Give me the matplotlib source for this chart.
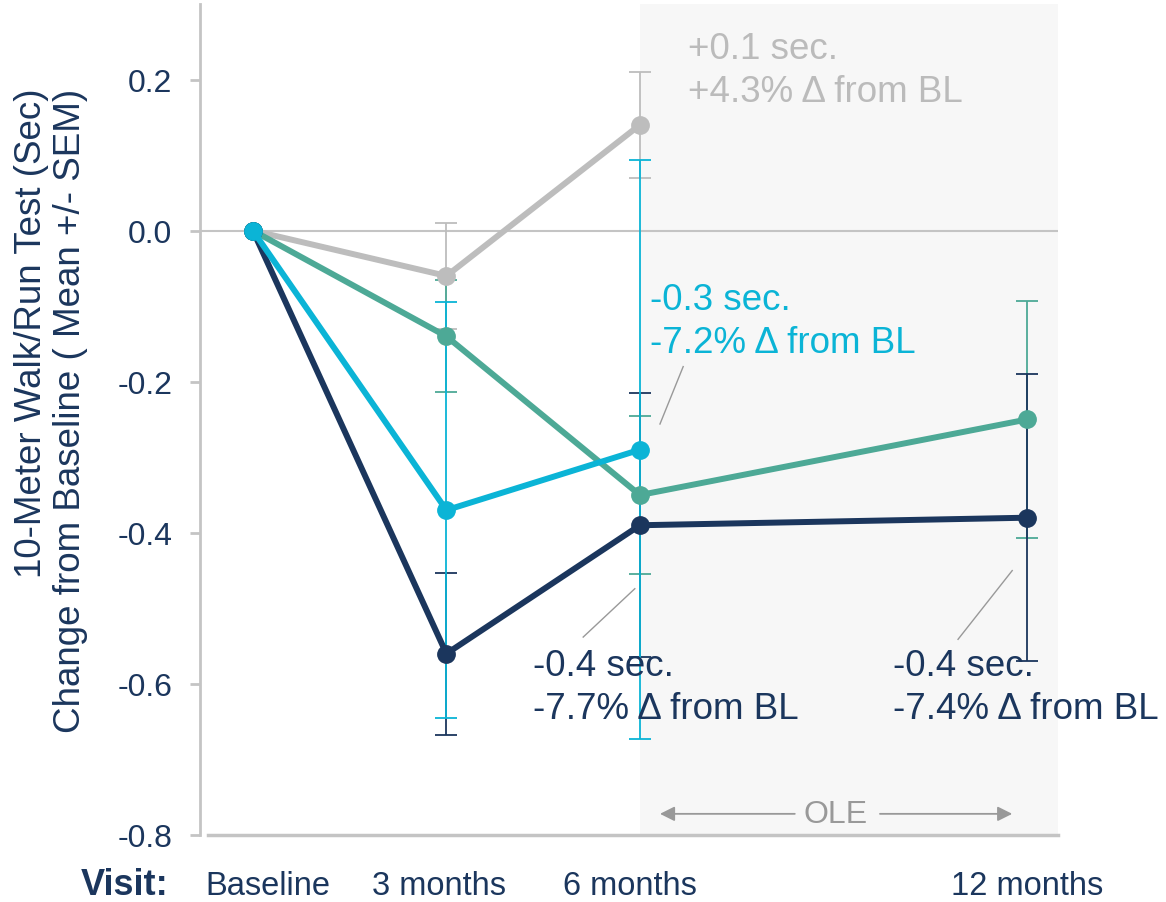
import matplotlib
matplotlib.use("Agg")
import matplotlib.pyplot as plt
from matplotlib.transforms import ScaledTranslation

plt.rcParams['font.family'] = ['Liberation Sans', 'DejaVu Sans']

# visits (months from baseline) and tick labels
visit_months = [0, 3, 6, 12]
visit_labels = ['Baseline', '3 months', '6 months', '12 months']

# mean change from baseline (sec) and SEM per group
grey_mean = [0.0, -0.06, 0.14]
grey_sem = [0.0, 0.07, 0.07]
teal_mean = [0.0, -0.14, -0.35, -0.25]
teal_sem = [0.0, 0.074, 0.104, 0.157]
navy_mean = [0.0, -0.56, -0.39, -0.38]
navy_sem = [0.0, 0.107, 0.175, 0.19]
cyan_mean = [0.0, -0.37, -0.29]
cyan_sem = [0.0, 0.275, 0.383]

GREY = '#BDBDBD'
TEAL = '#4DA996'
NAVY = '#1B365D'
CYAN = '#0BB4D6'
AXIS_GREY = '#C4C4C4'

fig = plt.figure(figsize=(11.66, 9.03), dpi=100)
ax = fig.add_axes([0.1715, 0.0742, 0.7359, 0.9203])
ax.set_xlim(-0.82, 12.48)
ax.set_ylim(-0.8, 0.30)

# open-label extension shading
ax.axvspan(6, 12.48, color='#F7F7F7', zorder=0, lw=0)
ax.axhline(0, color=AXIS_GREY, lw=1.5, zorder=1)
ax.plot([-0.7, 12.48], [-0.8, -0.8], color=AXIS_GREY, lw=2.5, zorder=1, clip_on=False)

series = [
    (grey_mean, grey_sem, GREY),
    (teal_mean, teal_sem, TEAL),
    (navy_mean, navy_sem, NAVY),
    (cyan_mean, cyan_sem, CYAN),
]
for mean, sem, col in series:
    xs = visit_months[:len(mean)]
    ax.errorbar(xs[1:], mean[1:], yerr=sem[1:], fmt='none', ecolor=col,
                elinewidth=1.3, capsize=8, capthick=1.3, zorder=2)
for mean, sem, col in series:
    xs = visit_months[:len(mean)]
    ax.plot(xs, mean, color=col, lw=4.3, marker='o', ms=12.5, zorder=3)

# value callouts
txt = dict(fontsize=26.5, ha='left', va='center', linespacing=1.3)
ax.text(6.74, 0.213, '+0.1 sec.\n+4.3% Δ from BL', color='#BBBBBB', **txt)
ax.text(6.16, -0.12, '-0.3 sec.\n-7.2% Δ from BL', color=CYAN, **txt)
ax.text(4.34, -0.604, '-0.4 sec.\n-7.7% Δ from BL', color=NAVY, **txt)
ax.text(9.92, -0.604, '-0.4 sec.\n-7.4% Δ from BL', color=NAVY, **txt)
lead = dict(color='#999999', lw=1, zorder=4)
ax.plot([6.31, 6.67], [-0.256, -0.180], **lead)
ax.plot([5.12, 5.92], [-0.538, -0.474], **lead)
ax.plot([10.93, 11.77], [-0.541, -0.450], **lead)

# OLE span marker
arr = dict(arrowstyle='-|>', color='#999999', lw=1.3, mutation_scale=22, shrinkA=0, shrinkB=0)
ax.annotate('', xy=(6.31, -0.772), xytext=(8.40, -0.772), arrowprops=arr)
ax.annotate('', xy=(11.77, -0.772), xytext=(9.72, -0.772), arrowprops=arr)
ax.text(9.03, -0.772, 'OLE', color='#999999', fontsize=23, ha='center', va='center')

for s in ['top', 'right', 'bottom']:
    ax.spines[s].set_visible(False)
ax.spines['left'].set_color(AXIS_GREY)
ax.spines['left'].set_linewidth(2)

ax.set_yticks([0.2, 0.0, -0.2, -0.4, -0.6, -0.8])
ax.set_yticklabels(['0.2', '0.0', '-0.2', '-0.4', '-0.6', '-0.8'])
ax.tick_params(axis='y', length=7, width=2, color=AXIS_GREY, pad=13,
               labelsize=23, labelcolor=NAVY)
ax.set_xticks(visit_months)
ax.set_xticklabels(visit_labels)
ax.tick_params(axis='x', length=0, pad=25, labelsize=23.5, labelcolor=NAVY)
# nudge the visit labels sideways a little
for lab, dx in zip(ax.get_xticklabels(), [11, -5, -7, 0]):
    lab.set_transform(lab.get_transform() + ScaledTranslation(dx / 72, 0, fig.dpi_scale_trans))

fig.text(0.107, 1 - 886 / 903, 'Visit:', fontsize=26, fontweight='bold',
         color=NAVY, ha='center', va='center')
fig.text(0.0437, 0.902, '10-Meter Walk/Run Test (Sec)\nChange from Baseline ( Mean +/- SEM)',
         rotation=90, fontsize=26.5, color=NAVY, ha='center', va='top',
         multialignment='right', linespacing=1.15)

fig.savefig('out.png', dpi=100)
